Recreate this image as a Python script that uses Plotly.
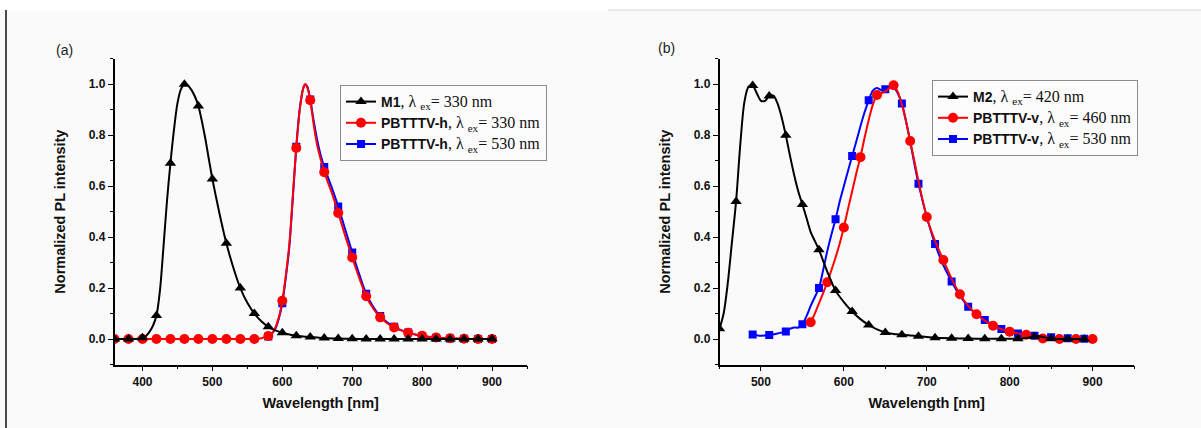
import plotly.graph_objects as go

# ---- Panel (a): M1 and PBTTTV-h emission spectra ----
m1_wl = [360, 370, 380, 390, 400, 405, 410, 415, 420, 425, 430, 435, 440, 445, 450, 455, 460, 465,
         470, 475, 480, 485, 490, 495, 500, 505, 510, 515, 520, 530, 540, 550, 560, 570, 580, 590,
         600, 610, 620, 630, 640, 650, 660, 680, 700, 720, 740, 760, 780, 800, 820, 840, 860, 880, 900]
m1_pl = [0, 0, 0, 0, 0.005, 0.012, 0.028, 0.052, 0.092, 0.19, 0.36, 0.54, 0.69, 0.82, 0.925, 0.98, 1.0, 0.995,
         0.978, 0.952, 0.915, 0.855, 0.785, 0.705, 0.628, 0.56, 0.495, 0.433, 0.376, 0.28, 0.2, 0.142, 0.1, 0.07, 0.048, 0.034,
         0.025, 0.018, 0.013, 0.01, 0.008, 0.006, 0.004, 0.002, 0.001, 0, 0, 0, 0, 0, 0, 0, 0, 0, 0]

h330_wl = [360, 380, 400, 420, 440, 460, 480, 500, 520, 540, 560, 570, 580, 585, 590, 595, 600, 605, 610,
           615, 620, 625, 630, 633, 636, 640, 645, 650, 655, 660, 670, 680, 690, 700, 710, 720, 730, 740,
           750, 760, 770, 780, 790, 800, 810, 820, 840, 860, 880, 900]
h330_pl = [0, 0, 0, 0, 0, 0, 0, 0, 0, 0, 0, 0.003, 0.012, 0.022, 0.045, 0.085, 0.15, 0.25, 0.37,
           0.56, 0.75, 0.9, 0.985, 1.0, 0.985, 0.937, 0.84, 0.76, 0.705, 0.655, 0.58, 0.495, 0.405, 0.32, 0.24, 0.168, 0.12, 0.085,
           0.062, 0.045, 0.034, 0.025, 0.018, 0.013, 0.009, 0.006, 0.003, 0.001, 0, 0]

h530_wl = [580, 585, 590, 595, 600, 605, 610, 615, 620, 625, 630, 633, 636, 640, 645, 650, 655, 660, 670,
           680, 690, 700, 710, 720, 730, 740, 750, 760, 770, 780, 790, 800, 810, 820, 840, 860, 880, 900]
h530_pl = [0.01, 0.02, 0.04, 0.08, 0.14, 0.24, 0.36, 0.55, 0.755, 0.905, 0.985, 1.0, 0.99, 0.94, 0.855, 0.78, 0.72, 0.675, 0.6,
           0.52, 0.43, 0.34, 0.255, 0.178, 0.127, 0.09, 0.066, 0.048, 0.035, 0.026, 0.018, 0.012, 0.008, 0.005, 0.002, 0.001, 0, 0]

# ---- Panel (b): M2 and PBTTTV-v emission spectra ----
m2_wl = [450, 455, 460, 465, 470, 475, 480, 485, 490, 495, 500, 505, 510, 515, 520, 525, 530, 535, 540, 545,
         550, 555, 560, 565, 570, 580, 590, 600, 610, 620, 630, 640, 650, 660, 670, 680, 690, 700, 710, 730,
         750, 770, 790, 810, 820, 830, 835, 840, 850, 870, 890]
m2_pl = [0.04, 0.1, 0.22, 0.38, 0.54, 0.76, 0.93, 0.99, 0.995, 0.965, 0.935, 0.935, 0.954, 0.955, 0.925, 0.87, 0.8, 0.72, 0.645, 0.58,
         0.528, 0.475, 0.42, 0.385, 0.35, 0.265, 0.19, 0.145, 0.108, 0.078, 0.055, 0.038, 0.026, 0.02, 0.017, 0.014, 0.011, 0.008, 0.005, 0.003,
         0.002, 0.001, 0.001, 0.001, 0.004, 0.01, 0.012, 0.008, 0.002, 0, 0]

v460_wl = [560, 565, 570, 575, 580, 585, 590, 595, 600, 605, 610, 615, 620, 625, 630, 635, 640, 645, 650, 655,
           660, 665, 670, 675, 680, 685, 690, 700, 710, 720, 730, 740, 750, 760, 770, 780, 790, 800, 810, 820,
           830, 840, 860, 880, 900]
v460_pl = [0.066, 0.1, 0.14, 0.18, 0.223, 0.27, 0.32, 0.375, 0.438, 0.51, 0.58, 0.65, 0.714, 0.79, 0.86, 0.92, 0.958, 0.965, 0.972, 0.985,
           0.996, 0.97, 0.92, 0.855, 0.777, 0.7, 0.62, 0.479, 0.385, 0.31, 0.237, 0.176, 0.13, 0.097, 0.072, 0.052, 0.039, 0.029, 0.022, 0.017,
           0.008, 0.002, 0, 0, 0]

v530_wl = [490, 500, 510, 520, 530, 535, 540, 545, 550, 555, 560, 565, 570, 575, 580, 585, 590, 595, 600, 605,
           610, 615, 620, 625, 630, 635, 640, 645, 650, 655, 660, 665, 670, 675, 680, 685, 690, 700, 710, 720,
           730, 740, 750, 760, 770, 780, 790, 800, 810, 820, 830, 840, 850, 870, 890]
v530_pl = [0.018, 0.013, 0.016, 0.022, 0.03, 0.04, 0.045, 0.045, 0.058, 0.09, 0.13, 0.165, 0.2, 0.27, 0.345, 0.41, 0.47, 0.54, 0.6, 0.66,
           0.718, 0.775, 0.835, 0.89, 0.937, 0.975, 0.985, 0.978, 0.98, 0.99, 0.99, 0.965, 0.925, 0.855, 0.775, 0.69, 0.61, 0.48, 0.373, 0.29,
           0.226, 0.17, 0.127, 0.097, 0.075, 0.055, 0.039, 0.03, 0.022, 0.017, 0.013, 0.01, 0.007, 0.003, 0.001]

W, H = 1201, 428
SERIF = "Liberation Serif"
SANS = "Liberation Sans"


def lam(ex):
    return (f'<span style="font-family:{SERIF};font-size:16px">, λ <sub>ex</sub>= {ex} nm</span>')


def add_series(fig, wl, pl, keep, color, symbol, msize, name, xa, ya, legend):
    mx = [w for w in wl if keep(w)]
    my = [p for w, p in zip(wl, pl) if keep(w)]
    fig.add_trace(go.Scatter(x=wl, y=pl, mode="lines", xaxis=xa, yaxis=ya,
                             line=dict(color=color, width=2, shape="spline", smoothing=0.8),
                             showlegend=False, hoverinfo="skip"))
    fig.add_trace(go.Scatter(x=mx, y=my, mode="markers", xaxis=xa, yaxis=ya,
                             marker=dict(color=color, symbol=symbol, size=msize),
                             showlegend=False))
    fig.add_trace(go.Scatter(x=[None], y=[None], mode="lines+markers", xaxis=xa, yaxis=ya,
                             line=dict(color=color, width=2),
                             marker=dict(color=color, symbol=symbol, size=msize),
                             name=name, legend=legend))


fig = go.Figure()

# drawing order: blue, red, black (black on top); legend lists them reversed
add_series(fig, h530_wl, h530_pl, lambda w: w % 20 == 0, "#0000ff", "square", 8,
           "<b>PBTTTV-h</b>" + lam(530), "x", "y", "legend")
add_series(fig, h330_wl, h330_pl, lambda w: w % 20 == 0, "#ff0000", "circle", 10,
           "<b>PBTTTV-h</b>" + lam(330), "x", "y", "legend")
add_series(fig, m1_wl, m1_pl, lambda w: w % 20 == 0, "#000000", "triangle-up", 10,
           "<b>M1</b>" + lam(330), "x", "y", "legend")

add_series(fig, v530_wl, v530_pl, lambda w: w % 20 == 10, "#0000ff", "square", 8,
           "<b>PBTTTV-v</b>" + lam(530), "x2", "y2", "legend2")
add_series(fig, v460_wl, v460_pl, lambda w: w % 20 == 0, "#ff0000", "circle", 10,
           "<b>PBTTTV-v</b>" + lam(460), "x2", "y2", "legend2")
add_series(fig, m2_wl, m2_pl, lambda w: w % 20 == 10, "#000000", "triangle-up", 10,
           "<b>M2</b>" + lam(420), "x2", "y2", "legend2")

ydom = [1 - 364.5 / H, 1 - 58.8 / H]
tickfont = dict(family=SANS, size=12, color="#111")
titlefont = dict(family=SANS, size=14.5, color="#111")


def xaxis(dom, rng, vals):
    return dict(domain=dom, range=rng, tickvals=vals, ticktext=[f"<b>{v}</b>" for v in vals],
                showline=True, linecolor="black", linewidth=1.5, ticks="outside", ticklen=5,
                tickwidth=1.2, tickcolor="black", showgrid=False, zeroline=False,
                tickfont=tickfont,
                minor=dict(dtick=50, tick0=0, ticks="outside", ticklen=3, tickwidth=1.2,
                           tickcolor="black", showgrid=False),
                title=dict(text="<b>Wavelength [nm]</b>", font=titlefont, standoff=10))


def yaxis():
    vals = [0, 0.2, 0.4, 0.6, 0.8, 1.0]
    return dict(domain=ydom, range=[-0.1, 1.1], tickvals=vals,
                ticktext=[f"<b>{v:.1f}</b>" for v in vals],
                showline=True, linecolor="black", linewidth=1.5, ticks="outside", ticklen=5,
                tickwidth=1.2, tickcolor="black", showgrid=False, zeroline=False,
                tickfont=tickfont,
                minor=dict(dtick=0.1, tick0=0, ticks="outside", ticklen=3, tickwidth=1.2,
                           tickcolor="black", showgrid=False),
                title=dict(text="<b>Normalized PL intensity</b>", font=titlefont, standoff=20))


xa = xaxis([114.5 / W, 527 / W], [360, 950], [400, 500, 600, 700, 800, 900])
xa["anchor"] = "y"
xb = xaxis([719.5 / W, 1134 / W], [450, 950], [500, 600, 700, 800, 900])
xb["anchor"] = "y2"
ya = yaxis()
ya["anchor"] = "x"
yb = yaxis()
yb["anchor"] = "x2"

leg_common = dict(bgcolor="#fcfcfc", bordercolor="#8c8c8c", borderwidth=1,
                  font=dict(family=SANS, size=14, color="#111"), traceorder="reversed",
                  xanchor="left", yanchor="top", tracegroupgap=0, itemwidth=30)

fig.update_layout(
    width=W, height=H, margin=dict(l=0, r=0, t=0, b=0),
    paper_bgcolor="#fafafa", plot_bgcolor="#fafafa",
    xaxis=xa, yaxis=ya, xaxis2=xb, yaxis2=yb,
    legend=dict(x=340 / W, y=1 - 85 / H, **leg_common),
    legend2=dict(x=932 / W, y=1 - 80 / H, **leg_common),
    annotations=[
        dict(text="(a)", x=64 / W, y=1 - 50 / H, xref="paper", yref="paper", showarrow=False,
             xanchor="center", yanchor="middle",
             font=dict(family=SANS, size=14, color="#222")),
        dict(text="(b)", x=666 / W, y=1 - 48 / H, xref="paper", yref="paper", showarrow=False,
             xanchor="center", yanchor="middle",
             font=dict(family=SANS, size=14, color="#222")),
    ],
    shapes=[
        dict(type="rect", xref="paper", yref="paper", x0=0, x1=1, y0=1 - 10 / H, y1=1,
             fillcolor="white", line=dict(width=0), layer="below"),
        dict(type="line", xref="paper", yref="paper", x0=608 / W, x1=1, y0=1 - 10 / H, y1=1 - 10 / H,
             line=dict(color="#e4e4e4", width=1.5)),
        dict(type="line", xref="paper", yref="paper", x0=6 / W, x1=6 / W, y0=0, y1=1 - 10 / H,
             line=dict(color="#4a4a4a", width=2)),
    ],
)

fig.write_html("out.html")
